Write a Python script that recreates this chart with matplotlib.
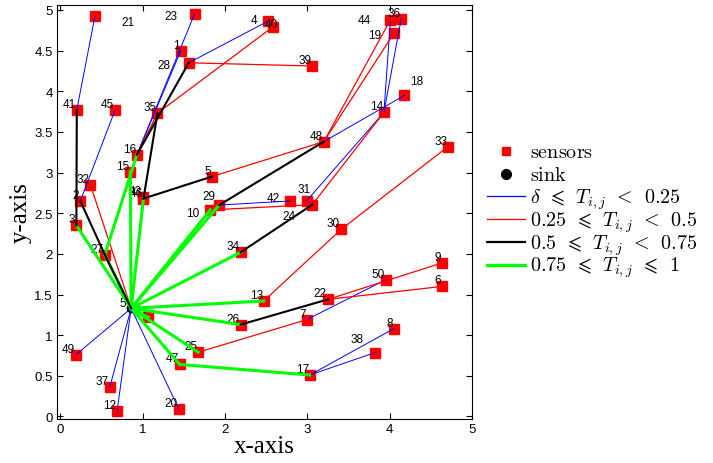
import matplotlib
matplotlib.use("Agg")
import matplotlib.pyplot as plt
from matplotlib.lines import Line2D

plt.rcParams['mathtext.fontset'] = 'cm'

# sensor positions
node_ids = [1, 2, 3, 4, 5, 6, 7, 8, 9, 10,
            11, 12, 13, 14, 15, 16, 17, 18, 19, 20,
            21, 22, 23, 24, 25, 26, 27, 28, 29, 30,
            31, 32, 33, 34, 35, 36, 37, 38, 39, 40,
            41, 42, 43, 44, 45, 46, 47, 48, 49, 50]
node_x = [1.46, 0.243, 0.195, 2.52, 1.84, 4.64, 2.99, 4.05, 4.64, 1.82,
          1.07, 0.69, 2.47, 3.93, 0.85, 0.93, 3.03, 4.18, 4.05, 1.44,
          0.42, 3.25, 1.63, 3.06, 1.675, 2.19, 0.54, 1.56, 1.93, 3.41,
          2.99, 0.365, 4.71, 2.19, 1.18, 4.14, 0.60, 3.82, 3.06, 2.58,
          0.20, 2.79, 1.00, 4.01, 0.665, 1.01, 1.45, 3.20, 0.19, 3.95]
node_y = [4.49, 2.65, 2.35, 4.86, 2.95, 1.60, 1.19, 1.08, 1.89, 2.54,
          1.22, 0.07, 1.42, 3.74, 3.01, 3.22, 0.51, 3.95, 4.71, 0.09,
          4.92, 1.44, 4.95, 2.605, 0.79, 1.13, 1.99, 4.35, 2.60, 2.30,
          2.65, 2.85, 3.32, 2.02, 3.73, 4.89, 0.36, 0.785, 4.31, 4.79,
          3.77, 2.65, 2.70, 4.88, 3.77, 2.68, 0.64, 3.38, 0.76, 1.68]
sink_x, sink_y = 0.86, 1.33

# links grouped by trust value (0 = sink)
links_low = [(21, 41), (23, 16), (1, 16), (28, 4), (45, 2), (29, 42), (31, 14),
             (48, 18), (14, 44), (14, 36), (7, 50), (17, 8), (17, 38),
             (0, 49), (0, 37), (0, 12), (0, 20)]
links_mid = [(35, 40), (16, 35), (28, 39), (32, 0), (5, 48), (10, 24), (24, 14),
             (48, 44), (48, 19), (13, 30), (30, 33), (22, 9), (22, 6), (25, 7)]
links_high = [(41, 3), (2, 27), (27, 0), (28, 16), (35, 46), (46, 5), (29, 48),
              (34, 24), (26, 22)]
links_top = [(0, 3), (0, 27), (27, 16), (0, 15), (0, 46), (0, 10), (0, 29), (0, 34),
             (0, 13), (0, 11), (0, 26), (0, 25), (0, 47), (47, 17)]

legend_labels = [r'$\mathrm{sensors}$', r'$\mathrm{sink}$',
                 r'$\delta\;\,\leqslant\;\,T_{i,j}\;\,<\;\,0.25$',
                 r'$0.25\;\,\leqslant\;\,T_{i,j}\;\,<\;\,0.5$',
                 r'$0.5\;\,\leqslant\;\,T_{i,j}\;\,<\;\,0.75$',
                 r'$0.75\;\,\leqslant\;\,T_{i,j}\;\,\leqslant\;\,1$']

pos = {0: (sink_x, sink_y)}
for i, x, y in zip(node_ids, node_x, node_y):
    pos[i] = (x, y)

# label nudges in pixels for labels that are not at the default spot
label_nudge = {21: (40, -9), 40: (5, 0), 4: (-11, -2), 24: (-17, -14.5), 18: (19, 11),
               44: (-20, -3.5), 19: (-13, -5), 42: (-10, 0), 31: (4, 9), 38: (-11, 10.5),
               10: (-11, -6.5), 28: (-18, -5), 23: (-17, -5), 29: (-4, 6), 0: (-5.5, 2.5)}

W, H = 713, 464
fig = plt.figure(figsize=(W / 100, H / 100), dpi=100)
ax = fig.add_axes([0.08, 0.095, 0.582, 0.892])

ax.plot(node_x, node_y, 's', color='red', markersize=6.5, zorder=1)
ax.plot(sink_x, sink_y, 'o', color='black', markersize=6, zorder=1)

styles = [(links_low, 'blue', 0.7), (links_mid, 'red', 0.9),
          (links_top, (0, 1, 0), 2.2), (links_high, 'black', 1.5)]
for links, col, lw in styles:
    for a, b in links:
        ax.plot([pos[a][0], pos[b][0]], [pos[a][1], pos[b][1]], color=col, lw=lw, zorder=2)

for i in [0] + node_ids:
    txt = '5' if i == 0 else str(i)
    dx, dy = label_nudge.get(i, (-1, 3))
    ax.annotate(txt, pos[i], xytext=(dx, dy), textcoords='offset pixels',
                ha='right', va='baseline', fontsize=8.5, family='Liberation Sans',
                zorder=1.5)

ax.set_xlim(-0.04, 5)
ax.set_ylim(-0.03, 5.06)
ax.set_xticks([0, 1, 2, 3, 4, 5])
ax.set_yticks([0, 0.5, 1, 1.5, 2, 2.5, 3, 3.5, 4, 4.5, 5])
ax.set_yticklabels(['0', '0.5', '1', '1.5', '2', '2.5', '3', '3.5', '4', '4.5', '5'])
ax.tick_params(direction='in', top=True, right=True, length=4, labelsize=9.5, pad=3)
for lab in ax.get_xticklabels() + ax.get_yticklabels():
    lab.set_family('Liberation Sans')
ax.set_xlabel('x-axis', family='Liberation Serif', fontsize=18, labelpad=0)
ax.set_ylabel('y-axis', family='Liberation Serif', fontsize=18, labelpad=2)

# legend drawn by hand so the rows stay evenly spaced
handles = [dict(marker='s', color='red', ls='none', markersize=6),
           dict(marker='o', color='black', ls='none', markersize=7),
           dict(color='blue', lw=0.9),
           dict(color='red', lw=0.9),
           dict(color='black', lw=1.6),
           dict(color=(0, 1, 0), lw=2.4)]
row0, row_step = 152, 22.7
for k, (h, lab) in enumerate(zip(handles, legend_labels)):
    yrow = 1 - (row0 + k * row_step) / H
    if h.get('ls') == 'none':
        fig.add_artist(Line2D([506 / W], [yrow], transform=fig.transFigure, **h))
    else:
        fig.add_artist(Line2D([487 / W, 525 / W], [yrow, yrow], transform=fig.transFigure, **h))
    fig.text(530 / W, yrow - 6.3 / H, lab, fontsize=14.5, va='baseline', ha='left')

fig.savefig('out.png', dpi=100)
